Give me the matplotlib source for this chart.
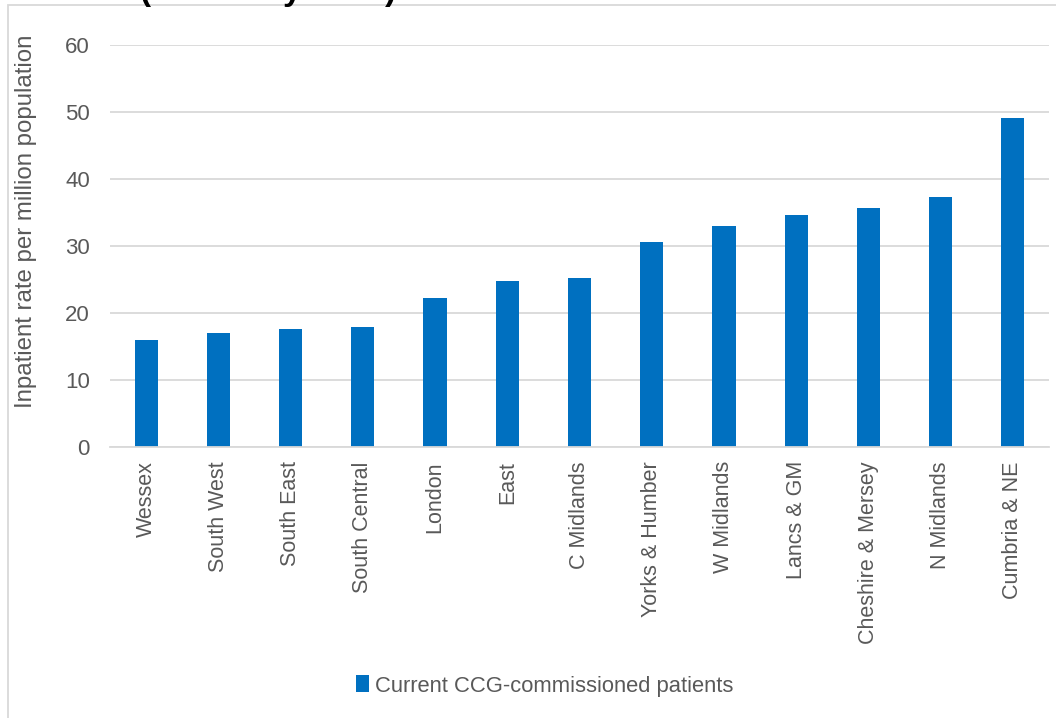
import matplotlib
matplotlib.use('Agg')
import matplotlib.pyplot as plt
from matplotlib.patches import Rectangle

regions = ["Wessex", "South West", "South East", "South Central", "London", "East",
           "C Midlands", "Yorks & Humber", "W Midlands", "Lancs & GM",
           "Cheshire & Mersey", "N Midlands", "Cumbria & NE"]
rates = [16.0, 17.0, 17.7, 18.0, 22.3, 24.8, 25.3, 30.6, 33.1, 34.7, 35.7, 37.3, 49.2]
yticks = [0, 10, 20, 30, 40, 50, 60]

BAR = "#0070C0"
GRID = "#d9d9d9"
TEXT = "#595959"

plt.rcParams['font.family'] = ['Liberation Sans', 'DejaVu Sans']

fig = plt.figure(figsize=(10.56, 7.18), dpi=100)
# chart area border (cut off on the right and bottom like the original)
fig.patches.append(Rectangle((8 / 1056, -0.1), 1.2, 1 - 5 / 718 + 0.1,
                             transform=fig.transFigure, fill=False,
                             edgecolor=GRID, linewidth=1.3))
# clipped title, only its lower part shows
fig.text(140 / 1056, 1.0, "(at 31 May 2018)", ha='left', va='baseline',
         fontsize=24, fontweight='bold', color='black')

ax = fig.add_axes([110 / 1056, 1 - 447.3 / 718, 939 / 1056, 402 / 718])
x = range(len(regions))
ax.bar(x, rates, width=0.32, color=BAR, zorder=2, label="Current CCG-commissioned patients")

ax.set_xlim(-0.5, len(regions) - 0.5)
ax.set_ylim(0, 60)
ax.set_yticks(yticks)
ax.set_xticks(list(x))
ax.set_xticklabels(regions, rotation=90, fontsize=15.5, color=TEXT)
ax.tick_params(axis='y', length=0, pad=14.5, labelsize=16, labelcolor=TEXT)
ax.tick_params(axis='x', length=0, pad=10)
ax.yaxis.grid(True, color=GRID, linewidth=1.3, zorder=1)
for s in ["top", "right", "left"]:
    ax.spines[s].set_visible(False)
ax.spines["bottom"].set_color(GRID)
ax.spines["bottom"].set_linewidth(1.3)

ax.set_ylabel("Inpatient rate per million population", fontsize=17.3, color=TEXT)
ax.yaxis.set_label_coords(-73 / 939, 0.5 + 25 / 402)

leg = fig.legend(loc='center', bbox_to_anchor=(545 / 1056, 1 - 686 / 718),
                 frameon=False, fontsize=15.8, handlelength=0.55, handleheight=0.8,
                 handletextpad=0.3)
for t in leg.get_texts():
    t.set_color(TEXT)

fig.savefig("out.png", dpi=100)
